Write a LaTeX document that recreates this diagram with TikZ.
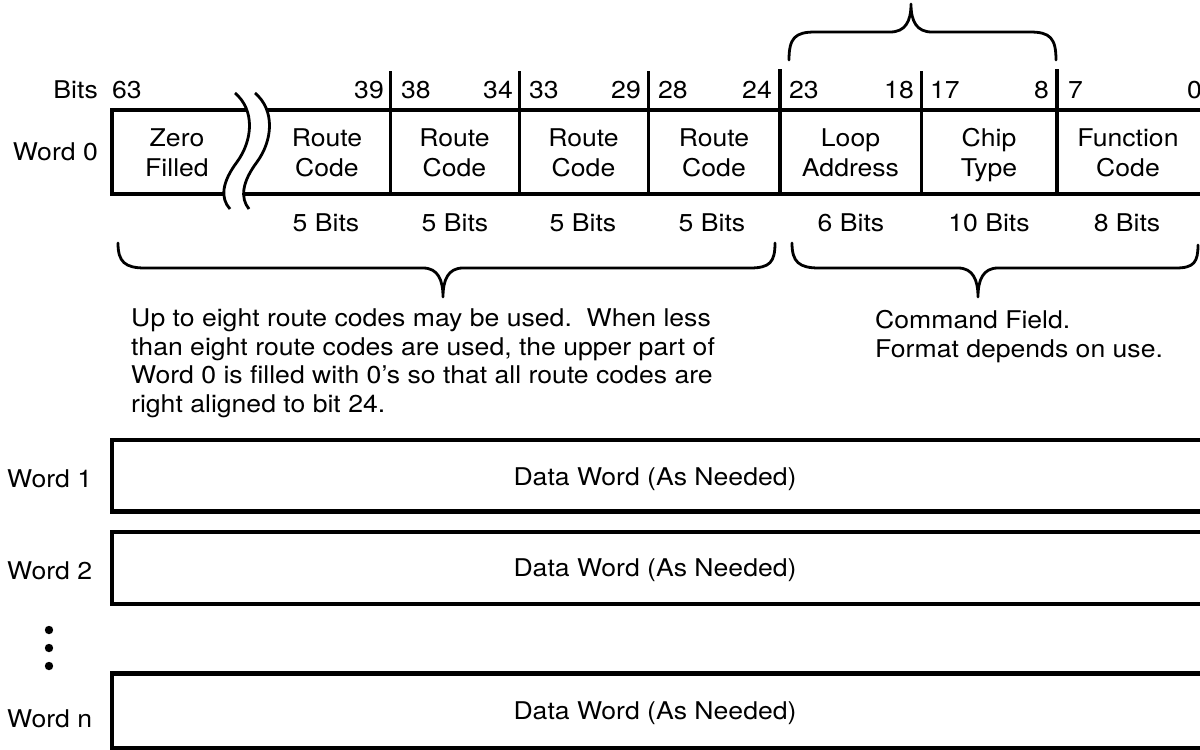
\documentclass[tikz,border=0pt]{standalone}
\usepackage{fontspec}
\setmainfont{TeX Gyre Heros}[FakeStretch=1.09]
\begin{document}
\begin{tikzpicture}[x=1pt,y=-1pt,
  lbl/.style={inner sep=0pt, font=\fontsize{24.4}{29.5}\selectfont},
  fieldtext/.style={lbl, align=center, anchor=base},
  para/.style={inner sep=0pt, align=left, anchor=base west, font=\fontsize{24.4}{28.4}\selectfont},
  boxline/.style={line width=4.5pt},
  divthin/.style={line width=3pt},
  divthick/.style={line width=4pt},
  brk/.style={line width=2.8pt},
  brace/.style={line width=2.8pt, line cap=round, line join=round},
]
\useasboundingbox (0,0) rectangle (1200,750);

% ---- Word 0 register ----
\draw[boxline] (1210,110) -- (112,110) -- (112,194) -- (1210,194);
\draw[divthin]  (390,71) -- (390,194);
\draw[divthin]  (519,71) -- (519,194);
\draw[divthin]  (648,71) -- (648,194);
\draw[divthick] (780,69) -- (780,194);
\draw[divthin]  (921,71) -- (921,194);
\draw[divthick] (1057,69) -- (1057,194);

% break symbol in the zero-filled field
\fill[white] (235,93) .. controls (255,110) and (253,140) .. (237,162)
  .. controls (222,182) and (220,198) .. (230,209) -- (249,209)
  .. controls (240,198) and (242,182) .. (257,162)
  .. controls (273,140) and (275,110) .. (255,93) -- cycle;
\draw[brk] (235,93) .. controls (255,110) and (253,140) .. (237,162)
  .. controls (222,182) and (220,198) .. (230,209);
\draw[brk] (255,93) .. controls (275,110) and (273,140) .. (257,162)
  .. controls (242,182) and (240,198) .. (249,209);

% field names (base = baseline of the second line)
\node[fieldtext] (zero) at (177,176) {Zero\\Filled};
\node[fieldtext] (rc1) at (327,176) {Route\\Code};
\node[fieldtext] (rc2) at (454.5,176) {Route\\Code};
\node[fieldtext] (rc3) at (583.5,176) {Route\\Code};
\node[fieldtext] (rc4) at (714,176) {Route\\Code};
\node[fieldtext] (loop) at (850.5,176) {Loop\\Address};
\node[fieldtext] (chip) at (989,176) {Chip\\Type};
\node[fieldtext] (func) at (1128,176) {Function\\Code};

% bit numbers
\node[lbl, anchor=base east] (bits) at (98,98) {Bits};
\node[lbl, anchor=base west] (b63) at (112,98) {63};
\node[lbl, anchor=base east] (b39) at (384,98) {39};
\node[lbl, anchor=base west] (b38) at (401,98) {38};
\node[lbl, anchor=base east] (b34) at (513,98) {34};
\node[lbl, anchor=base west] (b33) at (529,98) {33};
\node[lbl, anchor=base east] (b29) at (641,98) {29};
\node[lbl, anchor=base west] (b28) at (658,98) {28};
\node[lbl, anchor=base east] (b24) at (772,98) {24};
\node[lbl, anchor=base west] (b23) at (789,98) {23};
\node[lbl, anchor=base east] (b18) at (914,98) {18};
\node[lbl, anchor=base west] (b17) at (930,98) {17};
\node[lbl, anchor=base east] (b8) at (1049,98) {8};
\node[lbl, anchor=base west] (b7) at (1068,98) {7};
\node[lbl, anchor=base west] (b0) at (1187,98) {0};

\node[lbl, anchor=base east] (w0) at (98,160) {Word 0};

% field widths
\node[lbl, anchor=base] (s1) at (326,231.5) {5 Bits};
\node[lbl, anchor=base] (s2) at (455,231.5) {5 Bits};
\node[lbl, anchor=base] (s3) at (583,231.5) {5 Bits};
\node[lbl, anchor=base] (s4) at (712,231.5) {5 Bits};
\node[lbl, anchor=base] (s5) at (851,231.5) {6 Bits};
\node[lbl, anchor=base] (s6) at (989,231.5) {10 Bits};
\node[lbl, anchor=base] (s7) at (1127,231.5) {8 Bits};

% braces
\draw[brace] (789,60) .. controls (789,38) and (795,32) .. (815,32) -- (890,32)
  .. controls (905,32) and (911,22) .. (911,4)
  .. controls (911,22) and (917,32) .. (932,32) -- (1030,32)
  .. controls (1050,32) and (1056,38) .. (1056,60);
\draw[brace] (118,243) .. controls (118,262) and (125,268) .. (145,268) -- (423,268)
  .. controls (438,268) and (443,280) .. (443,297)
  .. controls (443,280) and (448,268) .. (463,268) -- (750,268)
  .. controls (770,268) and (775,262) .. (775,243);
\draw[brace] (792,243) .. controls (792,262) and (799,268) .. (819,268) -- (958,268)
  .. controls (973,268) and (978,280) .. (978,297)
  .. controls (978,280) and (983,268) .. (998,268) -- (1176,268)
  .. controls (1194,268) and (1198,262) .. (1198,245);

% notes (base = baseline of the last line)
\node[para] (routenote) at (131,412) {Up to eight route codes may be used.\ \ When less\\than eight route codes are used, the upper part of\\Word 0 is filled with 0's so that all route codes are\\right aligned to bit 24.};
\node[para, font=\fontsize{24.4}{29}\selectfont] (cmdnote) at (875,357) {Command Field.\\Format depends on use.};

% ---- data words ----
\draw[boxline] (1210,440) -- (112,440) -- (112,511.5) -- (1210,511.5);
\draw[boxline] (1210,532) -- (112,532) -- (112,604) -- (1210,604);
\draw[boxline] (1210,673.5) -- (112,673.5) -- (112,748) -- (1210,748);

\node[lbl, anchor=base] (d1) at (655,485) {Data Word (As Needed)};
\node[lbl, anchor=base] (d2) at (655,576) {Data Word (As Needed)};
\node[lbl, anchor=base] (dn) at (655,719) {Data Word (As Needed)};

\node[lbl, anchor=base west] (w1) at (7,487) {Word 1};
\node[lbl, anchor=base west] (w2) at (7,579) {Word 2};
\node[lbl, anchor=base west] (wn) at (7,727) {Word n};

\fill (49,630) circle (4.2);
\fill (49,648) circle (4.2);
\fill (49,666) circle (4.2);
\end{tikzpicture}
\end{document}
